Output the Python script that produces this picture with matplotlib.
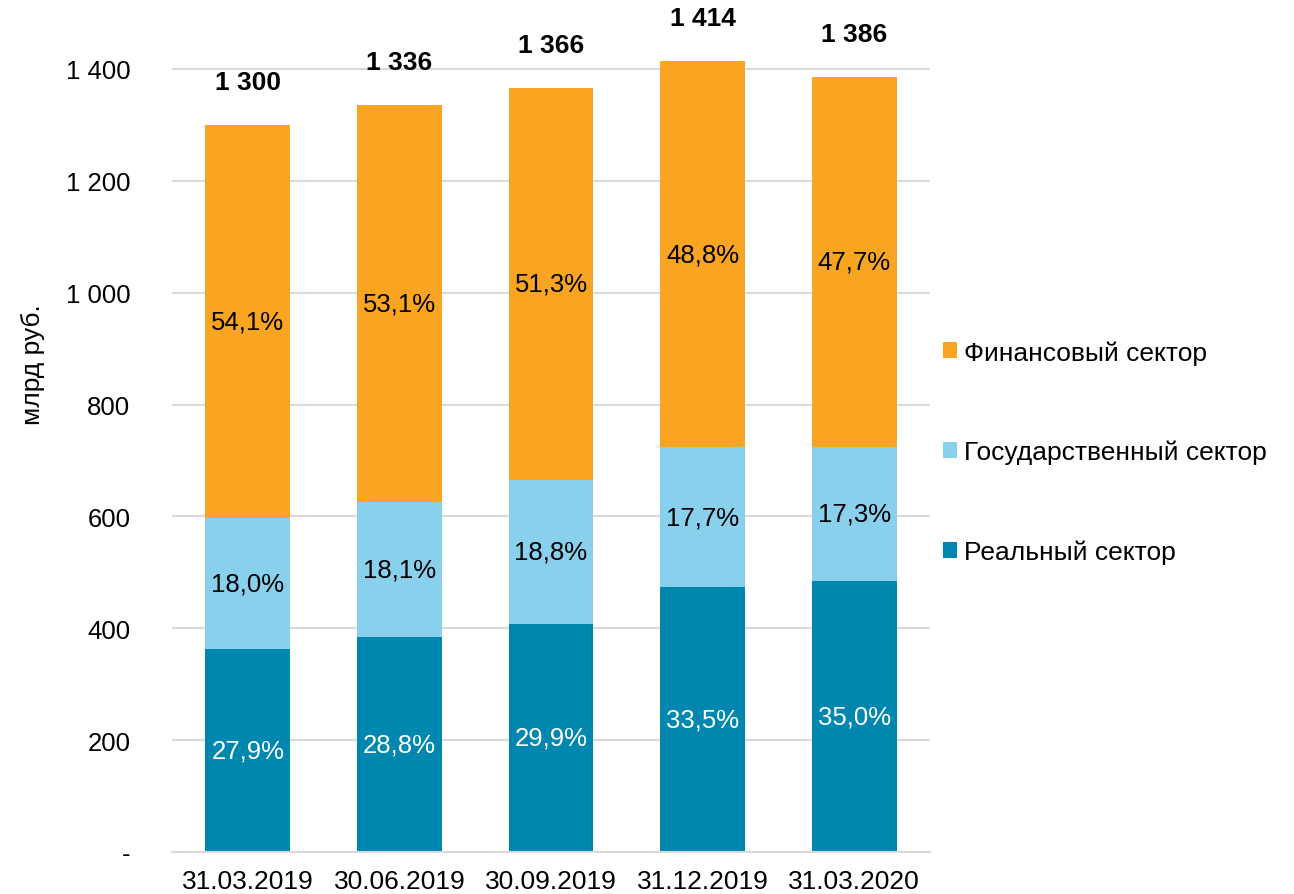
import matplotlib
matplotlib.use('Agg')
import matplotlib.pyplot as plt
import numpy as np

plt.rcParams['font.family'] = ['Liberation Sans', 'DejaVu Sans']

dates = ['31.03.2019', '30.06.2019', '30.09.2019', '31.12.2019', '31.03.2020']
totals = [1300, 1336, 1366, 1414, 1386]
real = [362.7, 384.8, 408.4, 473.7, 485.1]
state = [234.0, 241.8, 256.8, 250.3, 239.8]
fin = [703.3, 709.4, 700.8, 690.0, 661.1]
real_pct = ['27,9%', '28,8%', '29,9%', '33,5%', '35,0%']
state_pct = ['18,0%', '18,1%', '18,8%', '17,7%', '17,3%']
fin_pct = ['54,1%', '53,1%', '51,3%', '48,8%', '47,7%']

c_real = '#0087B0'
c_state = '#88D0EC'
c_fin = '#F9A521'

fig = plt.figure(figsize=(12.94, 8.95), dpi=100)
ax = fig.add_axes([172/1294, 1-853/895, (930-172)/1294, (853-14)/895])

x = np.arange(len(dates))
w = 0.56
real = np.array(real); state = np.array(state); fin = np.array(fin)
b1 = ax.bar(x, real, w, color=c_real, label='Реальный сектор', zorder=2)
b2 = ax.bar(x, state, w, bottom=real, color=c_state, label='Государственный сектор', zorder=2)
b3 = ax.bar(x, fin, w, bottom=real+state, color=c_fin, label='Финансовый сектор', zorder=2)

fs = 18.5
for i in range(len(x)):
    ax.text(x[i], real[i]/2, real_pct[i], ha='center', va='center', color='white', fontsize=fs, zorder=3)
    ax.text(x[i], real[i]+state[i]/2, state_pct[i], ha='center', va='center', color='black', fontsize=fs, zorder=3)
    ax.text(x[i], real[i]+state[i]+fin[i]/2, fin_pct[i], ha='center', va='center', color='black', fontsize=fs, zorder=3)
    ax.annotate(f'{totals[i]//1000} {totals[i]%1000:03d}', (x[i], totals[i]), xytext=(0, 31),
                textcoords='offset points', ha='center', va='center', fontsize=19,
                fontweight='bold', zorder=3, annotation_clip=False)

ax.set_xlim(-0.5, 4.5)
ax.set_ylim(0, 1500)
yt = [0, 200, 400, 600, 800, 1000, 1200, 1400]
ax.set_yticks(yt)
ax.set_yticklabels(['-'] + [f'{v:,}'.replace(',', ' ') for v in yt[1:]], fontsize=fs)
ax.set_xticks(x)
ax.set_xticklabels(dates, fontsize=19)
ax.tick_params(length=0, pad=30)
ax.tick_params(axis='x', pad=12)
ax.yaxis.grid(True, color='#D9D9D9', linewidth=1.5, zorder=0)
ax.set_axisbelow(True)
for s in ['top', 'right', 'left']:
    ax.spines[s].set_visible(False)
ax.spines['bottom'].set_color('#D9D9D9')
ax.spines['bottom'].set_linewidth(1.5)
ax.set_ylabel('млрд руб.', fontsize=19)
ax.yaxis.set_label_coords(-0.168, 0.582)

leg = fig.legend(handles=[b3, b2, b1], loc='center left', bbox_to_anchor=(919/1294, 1-453/895),
                 frameon=False, fontsize=19, handlelength=0.55, handleheight=0.55,
                 handletextpad=0.25, labelspacing=2.85)

fig.savefig('out.png', dpi=100)
